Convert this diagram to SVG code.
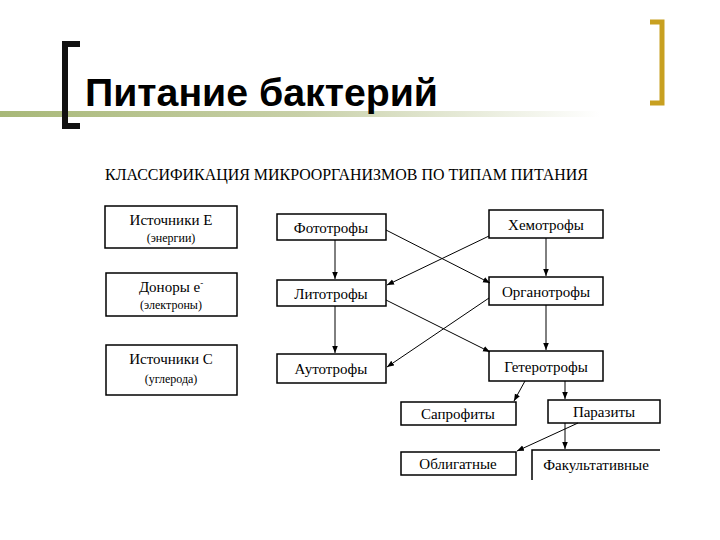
<svg xmlns="http://www.w3.org/2000/svg" width="720" height="540" viewBox="0 0 720 540">
<defs>
<linearGradient id="g" x1="0" x2="1"><stop offset="0" stop-color="#a8b878"/><stop offset="0.5" stop-color="#c8d0a8"/><stop offset="1" stop-color="#ffffff"/></linearGradient>
<marker id="a" viewBox="0 0 10 10" refX="10" refY="5" markerWidth="7" markerHeight="7" orient="auto"><path d="M0,1 L10,5 L0,9 z" fill="#000"/></marker>
<style>
.b{fill:#fff;stroke:#000;stroke-width:1.5}
.t{font-family:"Liberation Serif",serif;font-size:15px;fill:#000;text-anchor:middle}
.s{font-family:"Liberation Serif",serif;font-size:12px;fill:#000;text-anchor:middle}
.c line{stroke:#000;stroke-width:1;marker-end:url(#a)}
</style>
</defs>
<rect width="720" height="540" fill="#fff"/>
<rect x="0" y="111" width="600" height="6" fill="url(#g)"/>
<path d="M80,44 H65 V126 H80" fill="none" stroke="#111" stroke-width="6"/>
<path d="M650,22 H662 V103 H650" fill="none" stroke="#c8a020" stroke-width="5"/>
<text x="85" y="106" font-family="Liberation Sans,sans-serif" font-weight="bold" font-size="38" textLength="353" lengthAdjust="spacingAndGlyphs" fill="#000">Питание бактерий</text>
<text x="105" y="180" font-family="Liberation Serif,serif" font-size="16" textLength="483" lengthAdjust="spacingAndGlyphs" fill="#000">КЛАССИФИКАЦИЯ МИКРООРГАНИЗМОВ ПО ТИПАМ ПИТАНИЯ</text>
<g id="n-ie"><rect class="b" x="105" y="206" width="132" height="42"/><text class="t" x="171" y="225">Источники Е</text><text class="s" x="171" y="242">(энергии)</text></g>
<g id="n-don"><rect class="b" x="106" y="273" width="131" height="43"/><text class="t" x="171" y="292">Доноры е<tspan font-size="9" dy="-6">-</tspan></text><text class="s" x="171" y="309">(электроны)</text></g>
<g id="n-ic"><rect class="b" x="106" y="345" width="131" height="50"/><text class="t" x="171" y="364">Источники С</text><text class="s" x="171" y="383">(углерода)</text></g>
<g id="n-foto"><rect class="b" x="277" y="214" width="109" height="26"/><text class="t" x="331" y="233">Фототрофы</text></g>
<g id="n-hemo"><rect class="b" x="489" y="210" width="114" height="28"/><text class="t" x="546" y="230">Хемотрофы</text></g>
<g id="n-lito"><rect class="b" x="277" y="280" width="109" height="26"/><text class="t" x="331" y="299">Литотрофы</text></g>
<g id="n-organo"><rect class="b" x="489" y="277" width="114" height="28"/><text class="t" x="546" y="297">Органотрофы</text></g>
<g id="n-auto"><rect class="b" x="277" y="354" width="109" height="29"/><text class="t" x="331" y="374">Аутотрофы</text></g>
<g id="n-hetero"><rect class="b" x="489" y="351" width="114" height="30"/><text class="t" x="546" y="372">Гетеротрофы</text></g>
<g id="n-sapro"><rect class="b" x="401" y="402" width="115" height="23"/><text class="t" x="458" y="419">Сапрофиты</text></g>
<g id="n-para"><rect class="b" x="548" y="400" width="112" height="23"/><text class="t" x="604" y="417">Паразиты</text></g>
<g id="n-obl"><rect class="b" x="401" y="452" width="115" height="23"/><text class="t" x="458" y="469">Облигатные</text></g>
<g id="n-fak"><path class="b" d="M532,480 V450 H660 M532,450 V480"/><text class="t" x="596" y="470">Факультативные</text></g>
<g class="c" id="connectors">
<line x1="335" y1="240" x2="335" y2="279"/>
<line x1="546" y1="238" x2="546" y2="276"/>
<line x1="386" y1="230" x2="490" y2="283"/>
<line x1="489" y1="236" x2="387" y2="285"/>
<line x1="335" y1="306" x2="335" y2="353"/>
<line x1="546" y1="305" x2="546" y2="350"/>
<line x1="386" y1="300" x2="490" y2="352"/>
<line x1="489" y1="298" x2="387" y2="367"/>
<line x1="525" y1="381" x2="514" y2="401"/>
<line x1="565" y1="381" x2="565" y2="399"/>
<line x1="578" y1="423" x2="517" y2="451"/>
<line x1="565" y1="423" x2="565" y2="449"/>
</g>
</svg>
